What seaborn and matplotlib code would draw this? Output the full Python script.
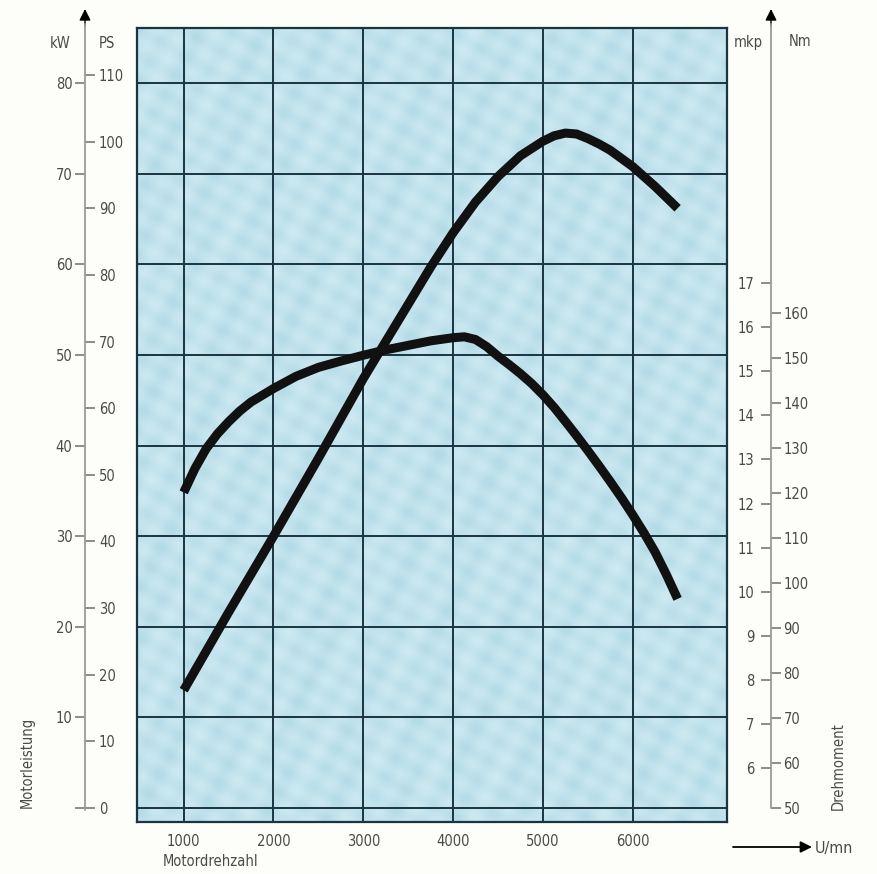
import numpy as np
import matplotlib
matplotlib.use("Agg")
import matplotlib.pyplot as plt
from matplotlib.lines import Line2D
from matplotlib.colors import LinearSegmentedColormap
import seaborn as sns

# Werte
rpm_power = [1000, 1250, 1500, 1750, 2000, 2250, 2500, 2750, 3000, 3250, 3500, 3750,
             4000, 4250, 4500, 4750, 5000, 5125, 5250, 5375, 5500, 5625, 5750, 6000, 6250, 6500]
power_kw = [13.0, 17.3, 21.6, 25.8, 30.0, 34.3, 38.6, 43.0, 47.4, 51.5, 55.6, 59.7,
            63.5, 66.9, 69.7, 72.0, 73.6, 74.2, 74.5, 74.4, 73.9, 73.3, 72.6, 70.8, 68.6, 66.2]

rpm_torque = [1000, 1125, 1250, 1375, 1500, 1625, 1750, 2000, 2250, 2500, 2750, 3000, 3250,
              3500, 3750, 4000, 4125, 4250, 4375, 4500, 4625, 4750, 4875, 5000, 5125, 5250,
              5375, 5500, 5625, 5750, 5875, 6000, 6125, 6250, 6375, 6500]
torque_nm = [120.2, 125.5, 129.9, 133.2, 135.9, 138.3, 140.3, 143.3, 146.0, 148.0, 149.4, 150.7,
             151.9, 152.9, 153.9, 154.6, 154.8, 154.2, 152.6, 150.5, 148.6, 146.6, 144.4, 141.9,
             139.1, 136.0, 132.8, 129.5, 126.1, 122.6, 119.0, 115.2, 111.2, 106.9, 101.9, 96.5]

rpm_ticks = [1000, 2000, 3000, 4000, 5000, 6000]
kw_ticks = [0, 10, 20, 30, 40, 50, 60, 70, 80]
ps_ticks = [0, 10, 20, 30, 40, 50, 60, 70, 80, 90, 100, 110]
nm_ticks = [50, 60, 70, 80, 90, 100, 110, 120, 130, 140, 150, 160]
mkp_ticks = [6, 7, 8, 9, 10, 11, 12, 13, 14, 15, 16, 17]

sns.set_style("white")
plt.rcParams["font.family"] = ["DejaVu Sans"]
plt.rcParams["font.stretch"] = "condensed"

W, H = 877, 874
txt_c = "#4a4a4a"
scale_c = "#9a9a9a"
grid_c = "#1b3442"


def fx(x):
    return x / W


def fy(y):
    return 1 - y / H


fig = plt.figure(figsize=(W / 100, H / 100), dpi=100, facecolor="#fdfdfa")
ax = fig.add_axes([fx(137), fy(822), fx(727) - fx(137), fy(28) - fy(822)])
ax.set_facecolor("#c1e3ed")

xlim = (480, 7050)
ylim = (-1.55, 86.1)

# Rasterhintergrund (nur Dekor)
gx, gy = np.meshgrid(np.arange(590), np.arange(794))
u = gx * 0.87 + gy * 0.5
v = -gx * 0.5 + gy * 0.87
tex = (np.cos(2 * np.pi * u / 28) + np.cos(2 * np.pi * v / 22)
       + 0.6 * np.cos(2 * np.pi * (gx + 0.3 * gy) / 61))
paper = LinearSegmentedColormap.from_list("paper", ["#cde9f1", "#c2e3ed", "#b4dbe8"])
ax.imshow(tex, cmap=paper, extent=(xlim[0], xlim[1], ylim[0], ylim[1]), aspect="auto",
          origin="upper", zorder=0, interpolation="bilinear")

# Leistung in kW auf der Hauptachse
sns.lineplot(x=rpm_power, y=power_kw, ax=ax, color="#111111", linewidth=6.5,
             solid_capstyle="butt", zorder=5)
ax.set_xlim(*xlim)
ax.set_ylim(*ylim)
ax.set_xticks(rpm_ticks)
ax.set_yticks(kw_ticks)
ax.grid(True, color=grid_c, linewidth=1.4, zorder=1)
ax.set_axisbelow(False)
ax.tick_params(axis="x", length=0, pad=9, labelsize=10.5, labelcolor=txt_c)
ax.tick_params(axis="y", length=0, labelleft=False)
for s in ax.spines.values():
    s.set_color(grid_c)
    s.set_linewidth(1.6)

# Drehmoment in Nm auf Zwillingsachse
ax_t = ax.twinx()
sns.lineplot(x=rpm_torque, y=torque_nm, ax=ax_t, color="#111111", linewidth=6.5,
             solid_capstyle="butt", zorder=5)
ax_t.set_ylim(50 + 2.015 * ylim[0], 50 + 2.015 * ylim[1])
ax_t.set_yticks([])
for s in ax_t.spines.values():
    s.set_visible(False)

tick_kw = dict(length=7, width=1.2, color="#7a7a7a", labelsize=10.5, labelcolor=txt_c)

# linke Skala: kW / PS
sec_kw = ax.secondary_yaxis(-0.0881)
sec_kw.set_yticks(kw_ticks, labels=[""] + [str(v) for v in kw_ticks[1:]])
sec_kw.tick_params(pad=2, **tick_kw)
sec_ps = ax.secondary_yaxis(-0.0881, functions=(lambda k: k / 0.7355, lambda p: p * 0.7355))
sec_ps.set_alignment("right")
sec_ps.set_yticks(ps_ticks)
sec_ps.tick_params(pad=3, **tick_kw)

# rechte Skala: mkp / Nm
sec_nm = ax_t.secondary_yaxis(1.0746)
sec_nm.set_yticks(nm_ticks)
sec_nm.tick_params(pad=2, **tick_kw)
sec_mkp = ax_t.secondary_yaxis(1.0746, functions=(lambda n: n / 9.81, lambda m: m * 9.81))
sec_mkp.set_alignment("left")
sec_mkp.set_yticks(mkp_ticks)
sec_mkp.tick_params(pad=5, **tick_kw)

for sec in (sec_kw, sec_ps, sec_nm, sec_mkp):
    for s in sec.spines.values():
        s.set_visible(False)

# Skalenlinien mit Pfeilen
for xl, yb in ((85, 810), (771, 808)):
    fig.add_artist(Line2D([fx(xl), fx(xl)], [fy(yb), fy(24)], transform=fig.transFigure,
                          color=scale_c, linewidth=1.3))
    ax.annotate("", xy=(fx(xl), fy(9)), xytext=(fx(xl), fy(26)), xycoords="figure fraction",
                arrowprops=dict(arrowstyle="-|>", color="black", lw=1, mutation_scale=17,
                                shrinkA=0, shrinkB=0))
ax.annotate("", xy=(fx(812), fy(847)), xytext=(fx(733), fy(847)), xycoords="figure fraction",
            arrowprops=dict(arrowstyle="-|>", color="black", lw=1.3, mutation_scale=17,
                            shrinkA=0, shrinkB=0))

fig.text(fx(60), fy(43), "kW", ha="center", va="center", fontsize=10.5, color=txt_c)
fig.text(fx(107), fy(43), "PS", ha="center", va="center", fontsize=10.5, color=txt_c)
fig.text(fx(748), fy(42), "mkp", ha="center", va="center", fontsize=10.5, color=txt_c)
fig.text(fx(800), fy(42), "Nm", ha="center", va="center", fontsize=10.5, color=txt_c)
fig.text(fx(27), fy(808), "Motorleistung", rotation=90, ha="center", va="bottom",
         fontsize=10.5, color=txt_c)
fig.text(fx(838), fy(810), "Drehmoment", rotation=90, ha="center", va="bottom",
         fontsize=10.5, color=txt_c)
fig.text(fx(163), fy(862), "Motordrehzahl", ha="left", va="center", fontsize=10.5, color=txt_c)
fig.text(fx(815), fy(848), "U/mn", ha="left", va="center", fontsize=11.5, color=txt_c)

fig.savefig("out.png", dpi=100, facecolor=fig.get_facecolor())
